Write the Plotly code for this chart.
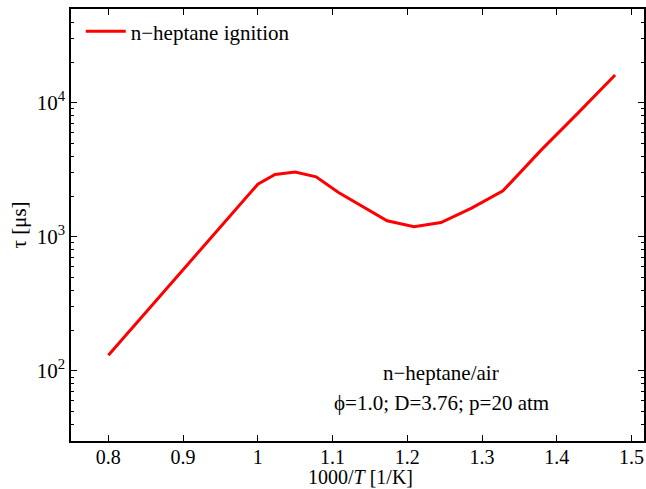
import plotly.graph_objects as go

# Data (1000/T in 1/K, ignition delay tau in microseconds)
inv_T = [0.800, 1.000, 1.023, 1.050, 1.078, 1.108, 1.173, 1.209, 1.245, 1.286, 1.328, 1.379, 1.4286, 1.478]
tau_us = [131, 2466, 2913, 3047, 2800, 2138, 1316, 1187, 1278, 1636, 2203, 4430, 8400, 16100]

series_name = "n\u2212heptane ignition"
y_major = [100, 1000, 10000]
y_major_text = ["10<sup>2</sup>", "10<sup>3</sup>", "10<sup>4</sup>"]
y_minor = [m * d for d in (10, 100, 1000, 10000) for m in range(2, 10)]
x_ticks = [0.8, 0.9, 1.0, 1.1, 1.2, 1.3, 1.4, 1.5]
x_tick_text = ["0.8", "0.9", "1", "1.1", "1.2", "1.3", "1.4", "1.5"]

font_family = "Liberation Serif"
fs = 21

fig = go.Figure()
fig.add_trace(go.Scatter(
    x=inv_T, y=tau_us, mode="lines", name=series_name,
    line=dict(color="#ff0000", width=3),
))

fig.update_layout(
    width=646, height=489,
    margin=dict(l=71, r=0, t=9, b=48),
    paper_bgcolor="white", plot_bgcolor="white",
    font=dict(family=font_family, size=fs, color="black"),
    showlegend=True,
    legend=dict(x=0.017, y=0.995, xanchor="left", yanchor="top",
                bgcolor="rgba(0,0,0,0)", borderwidth=0,
                font=dict(size=fs, family=font_family),
                itemwidth=40, tracegroupgap=0),
    xaxis=dict(
        range=[0.75, 1.5167], tickmode="array", tickvals=x_ticks, ticktext=x_tick_text,
        ticks="inside", ticklen=6, tickwidth=1, tickcolor="black",
        showline=True, linecolor="black", linewidth=1.5, mirror="ticks",
        showgrid=False, zeroline=False, ticklabelstandoff=-3,
        tickfont=dict(size=20, family=font_family),
    ),
    yaxis=dict(
        type="log", range=[1.477, 4.699], tickmode="array", tickvals=y_major, ticktext=y_major_text,
        ticks="inside", ticklen=6, tickwidth=1, tickcolor="black",
        showline=True, linecolor="black", linewidth=1.5, mirror="ticks",
        showgrid=False, zeroline=False,
        tickfont=dict(size=fs, family=font_family),
        minor=dict(tickmode="array", tickvals=y_minor, ticks="inside", ticklen=3,
                   tickcolor="black", showgrid=False),
        title=dict(text="\u03c4 [\u03bcs]", standoff=4, font=dict(size=fs, family=font_family)),
    ),
)

# x-axis title placed just under the tick labels, as in the reference
fig.add_annotation(x=0.506, y=-0.084, xref="paper", yref="paper", text="1000/<i>T</i> [1/K]",
                   showarrow=False, font=dict(size=20, family=font_family),
                   xanchor="center", yanchor="middle")

fig.add_annotation(x=1.2456, y=1.985, xref="x", yref="y", text="n\u2212heptane/air",
                   showarrow=False, font=dict(size=fs, family=font_family),
                   xanchor="center", yanchor="middle")
fig.add_annotation(x=1.2456, y=1.76, xref="x", yref="y", text="\u03d5=1.0; D=3.76; p=20 atm",
                   showarrow=False, font=dict(size=fs, family=font_family),
                   xanchor="center", yanchor="middle")

fig.write_html("out.html")
